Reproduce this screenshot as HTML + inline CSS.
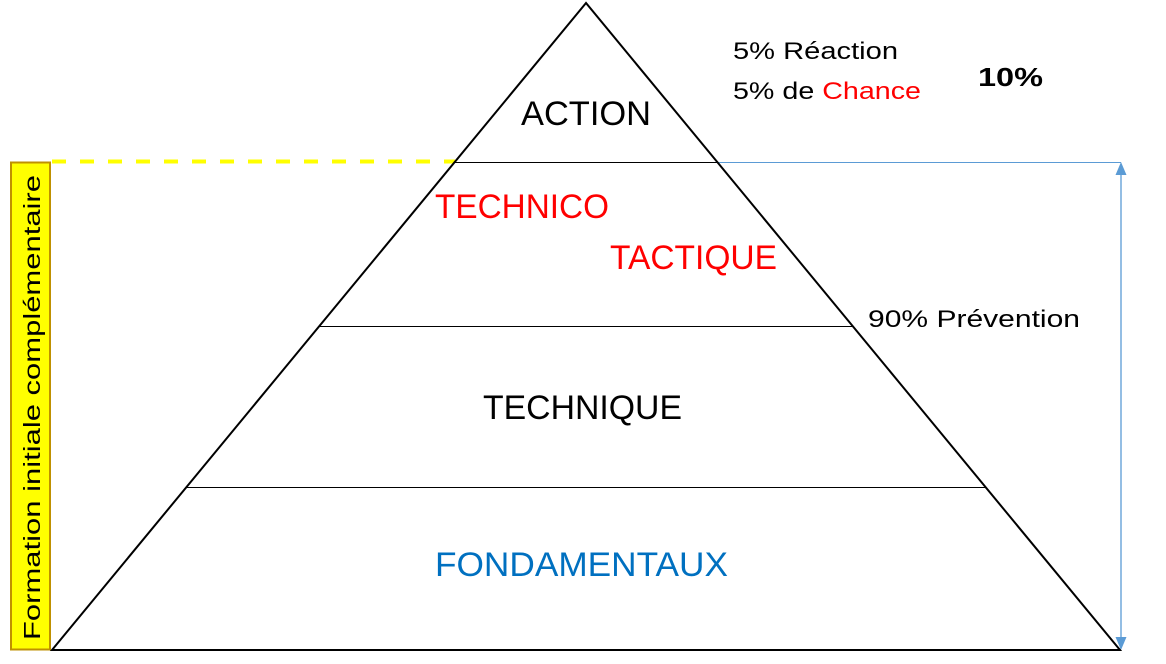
<!DOCTYPE html>
<html><head><meta charset="utf-8"><style>
html,body{margin:0;padding:0;background:#fff;}
svg{display:block;}
text{font-family:"Liberation Sans",sans-serif;}
</style></head><body>
<svg width="1166" height="664" viewBox="0 0 1166 664" xmlns="http://www.w3.org/2000/svg">
<rect x="11" y="162.5" width="39" height="487" fill="#FFFF00" stroke="#BF9000" stroke-width="2"/>
<text transform="translate(40,640) rotate(-90)" font-size="23" fill="#000" textLength="465" lengthAdjust="spacingAndGlyphs">Formation initiale complémentaire</text>
<line x1="52" y1="161.5" x2="455" y2="161.5" stroke="#FFFF00" stroke-width="4" stroke-dasharray="14,14"/>
<line x1="718" y1="162.5" x2="1121" y2="162.5" stroke="#5B9BD5" stroke-width="1"/>
<line x1="1121" y1="172" x2="1121" y2="640" stroke="#5B9BD5" stroke-width="1.3"/>
<polygon points="1121,162 1115.5,175 1126.5,175" fill="#5B9BD5"/>
<polygon points="1121,650 1115.5,637 1126.5,637" fill="#5B9BD5"/>
<polygon points="586,3 52,650 1120,650" fill="none" stroke="#000" stroke-width="2"/>
<line x1="455" y1="162.5" x2="718" y2="162.5" stroke="#000" stroke-width="1"/>
<line x1="318" y1="326.5" x2="853" y2="326.5" stroke="#000" stroke-width="1"/>
<line x1="186" y1="487.5" x2="985" y2="487.5" stroke="#000" stroke-width="1"/>
<text x="521" y="125" font-size="34" textLength="130" lengthAdjust="spacingAndGlyphs">ACTION</text>
<text x="435" y="218" font-size="34" fill="#FF0000" textLength="174" lengthAdjust="spacingAndGlyphs">TECHNICO</text>
<text x="610" y="269" font-size="34" fill="#FF0000" textLength="167" lengthAdjust="spacingAndGlyphs">TACTIQUE</text>
<text x="483" y="419" font-size="34" textLength="199" lengthAdjust="spacingAndGlyphs">TECHNIQUE</text>
<text x="435" y="576" font-size="34" fill="#0070C0" textLength="293" lengthAdjust="spacingAndGlyphs">FONDAMENTAUX</text>
<text x="733" y="59" font-size="24" textLength="165" lengthAdjust="spacingAndGlyphs">5% Réaction</text>
<text x="733" y="99" font-size="24" textLength="188" lengthAdjust="spacingAndGlyphs">5% de <tspan fill="#FF0000">Chance</tspan></text>
<text x="978" y="86" font-size="26" font-weight="bold" textLength="65" lengthAdjust="spacingAndGlyphs">10%</text>
<text x="868" y="327" font-size="24" textLength="212" lengthAdjust="spacingAndGlyphs">90% Prévention</text>
</svg>
</body></html>
